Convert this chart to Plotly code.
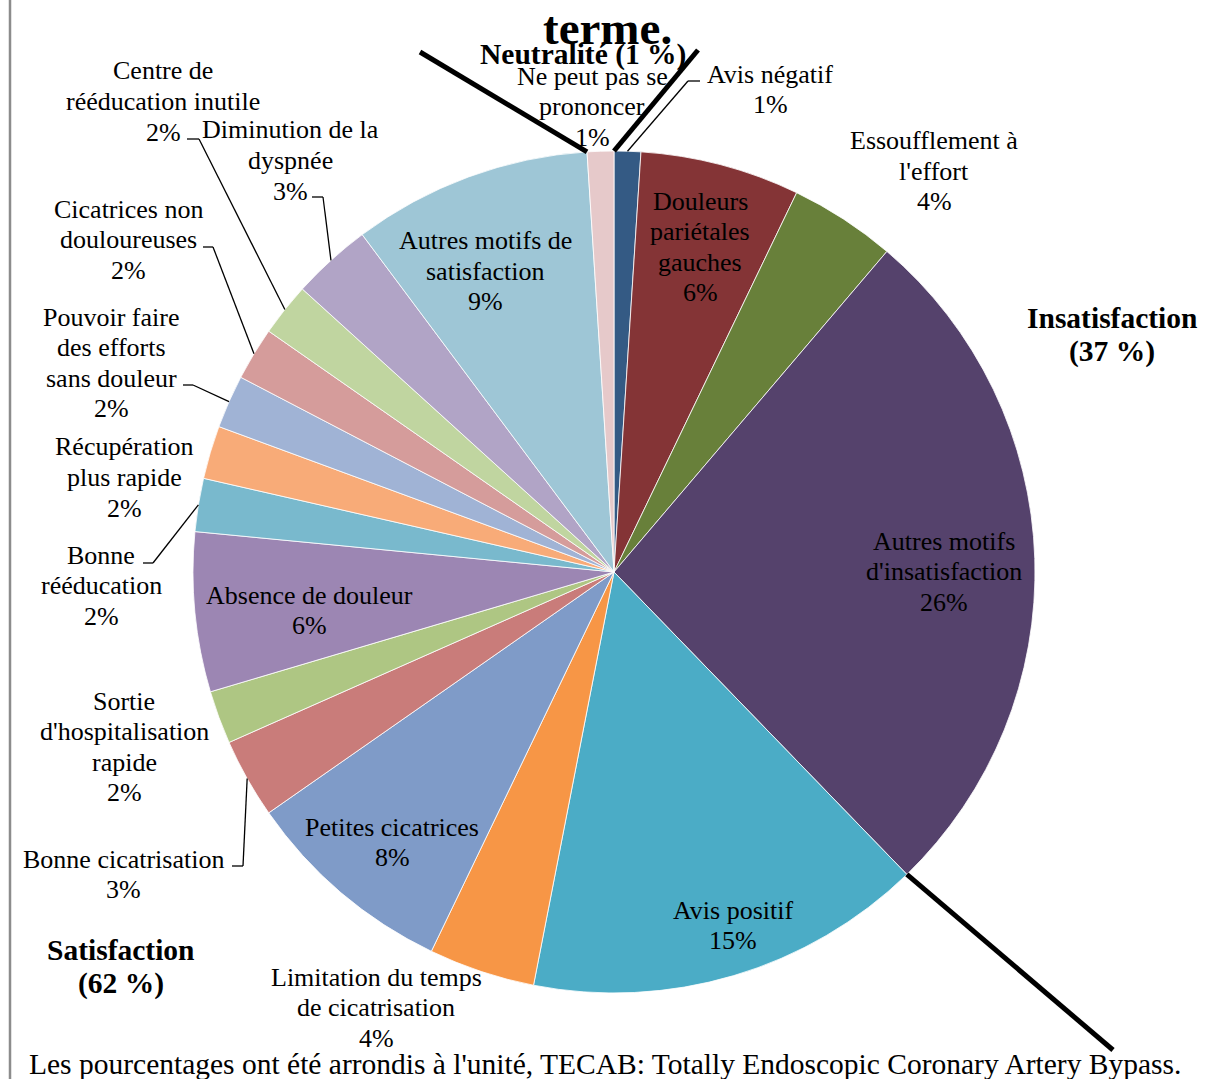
import math
import plotly.graph_objects as go

# Motifs de satisfaction / insatisfaction (pourcentages arrondis), sens horaire depuis midi
labels = [
    "Avis négatif",
    "Douleurs pariétales gauches",
    "Essoufflement à l'effort",
    "Autres motifs d'insatisfaction",
    "Avis positif",
    "Limitation du temps de cicatrisation",
    "Petites cicatrices",
    "Bonne cicatrisation",
    "Sortie d'hospitalisation rapide",
    "Absence de douleur",
    "Bonne rééducation",
    "Récupération plus rapide",
    "Pouvoir faire des efforts sans douleur",
    "Cicatrices non douloureuses",
    "Centre de rééducation inutile",
    "Diminution de la dyspnée",
    "Autres motifs de satisfaction",
    "Ne peut pas se prononcer",
]
values = [1, 6, 4, 26, 15, 4, 8, 3, 2, 6, 2, 2, 2, 2, 2, 3, 9, 1]
colors = [
    "#345A84", "#843436", "#68803A", "#55426C", "#4BACC6", "#F79646",
    "#7F9BC8", "#C97C7A", "#AEC683", "#9C86B3", "#79B9CD", "#F8AB78",
    "#A0B3D5", "#D59C9B", "#C0D5A0", "#B1A4C6", "#9EC6D6", "#E6C9CA",
]

# Regroupements
groups = ["Neutralité (1 %)", "Insatisfaction<br>(37 %)", "Satisfaction<br>(62 %)"]
title_text = "terme."
note_text = ("Les pourcentages ont été arrondis à l'unité, TECAB: "
             "Totally Endoscopic Coronary Artery Bypass.")

# Libellés affichés, ligne par ligne
label_lines = {
    0: ["Avis négatif", "1%"],
    1: ["Douleurs", "pariétales", "gauches", "6%"],
    2: ["Essoufflement à", "l'effort", "4%"],
    3: ["Autres motifs", "d'insatisfaction", "26%"],
    4: ["Avis positif", "15%"],
    5: ["Limitation du temps", "de cicatrisation", "4%"],
    6: ["Petites cicatrices", "8%"],
    7: ["Bonne cicatrisation", "3%"],
    8: ["Sortie", "d'hospitalisation", "rapide", "2%"],
    9: ["Absence de douleur", "6%"],
    10: ["Bonne", "rééducation", "2%"],
    11: ["Récupération", "plus rapide", "2%"],
    12: ["Pouvoir faire", "des efforts", "sans douleur", "2%"],
    13: ["Cicatrices non", "douloureuses", "2%"],
    14: ["Centre de", "rééducation inutile", "2%"],
    15: ["Diminution de la", "dyspnée", "3%"],
    16: ["Autres motifs de", "satisfaction", "9%"],
    17: ["Ne peut pas se", "prononcer", "1%"],
}

W, H = 1216, 1079
CX, CY, R = 614, 572, 421
FONT = "Liberation Serif, Times New Roman, serif"


def fx(x):
    return x / W


def fy(y):
    return 1 - y / H


total = sum(values)


def edge_point(frac, r=R):
    """Point on the pie rim at a fraction of the full turn (clockwise from 12 o'clock)."""
    a = 2 * math.pi * frac
    return CX + r * math.sin(a), CY - r * math.cos(a)


cum = [0]
for v in values:
    cum.append(cum[-1] + v)

fig = go.Figure()
fig.add_trace(go.Pie(
    labels=labels,
    values=values,
    sort=False,
    direction="clockwise",
    rotation=0,
    marker=dict(colors=colors, line=dict(color="white", width=0.8)),
    textinfo="none",
    hoverinfo="label+value",
    showlegend=False,
    domain=dict(x=[fx(CX - R), fx(CX + R)], y=[fy(CY + R), fy(CY - R)]),
))

annotations = []
shapes = []


def add_block(x, y0, lines, size=26, step=30.5, bold=False):
    for k, line in enumerate(lines):
        txt = f"<b>{line}</b>" if bold else line
        annotations.append(dict(
            x=fx(x), y=fy(y0 + k * step), xref="paper", yref="paper",
            text=txt, showarrow=False, xanchor="center", yanchor="middle",
            font=dict(family=FONT, size=size, color="black"),
        ))


# Position (centre x, centre de la première ligne y) de chaque libellé
label_pos = {
    0: (770, 74), 1: (700, 201), 2: (934, 141), 3: (944, 541),
    4: (733, 910), 5: (376, 977), 6: (392, 827), 7: (123, 859),
    8: (124, 701), 9: (310, 595), 10: (101, 555), 11: (124, 447),
    12: (111, 317), 13: (128, 209), 14: (163, 71), 15: (290, 130),
    16: (485, 241), 17: (592, 76),
}
for i, lines in label_lines.items():
    x, y = label_pos[i]
    add_block(x, y, lines)

# Lignes de rappel : départ côté libellé, coude, puis milieu de l'arc du secteur
leaders = {
    0: [(700, 81), (688, 81)],
    14: [(187, 139), (199, 139)],
    15: [(312, 197), (323, 197)],
    13: [(203, 247), (213, 247)],
    12: [(183, 385), (193, 385)],
    10: [(143, 563), (153, 563)],
    7: [(232, 866), (243, 866)],
}
for i, pts in leaders.items():
    mid = (cum[i] + values[i] / 2) / total
    pts = pts + [edge_point(mid)]
    for (x0, y0), (x1, y1) in zip(pts[:-1], pts[1:]):
        shapes.append(dict(type="line", xref="paper", yref="paper",
                           x0=fx(x0), y0=fy(y0), x1=fx(x1), y1=fy(y1),
                           line=dict(color="black", width=1.3)))

# Traits épais séparant les trois groupes (départ à la limite des secteurs)
separators = [
    (cum[17] / total, (420, 52)),
    (0.0, (698, 50)),
    (cum[4] / total, (1113, 1050)),
]
for frac, (xe, ye) in separators:
    xs, ys = edge_point(frac)
    shapes.append(dict(type="line", xref="paper", yref="paper",
                       x0=fx(xs), y0=fy(ys), x1=fx(xe), y1=fy(ye),
                       line=dict(color="black", width=5)))

# Bordure gauche du cadre
shapes.append(dict(type="line", xref="paper", yref="paper",
                   x0=fx(10), y0=0, x1=fx(10), y1=1,
                   line=dict(color="#8c8c8c", width=2.5)))

# Titres de groupes et textes
add_block(607, 28, [title_text], size=47, bold=True)
add_block(583, 55, [groups[0]], size=29.5, bold=True)
add_block(1112, 318, groups[1].split("<br>"), size=29.5, step=33, bold=True)
add_block(121, 950, groups[2].split("<br>"), size=29.5, step=33, bold=True)
add_block(605, 1064, [note_text], size=29.5)

fig.update_layout(
    width=W, height=H,
    margin=dict(l=0, r=0, t=0, b=0),
    paper_bgcolor="white", plot_bgcolor="white",
    annotations=annotations, shapes=shapes,
    font=dict(family=FONT),
)

fig.write_html("out.html")
